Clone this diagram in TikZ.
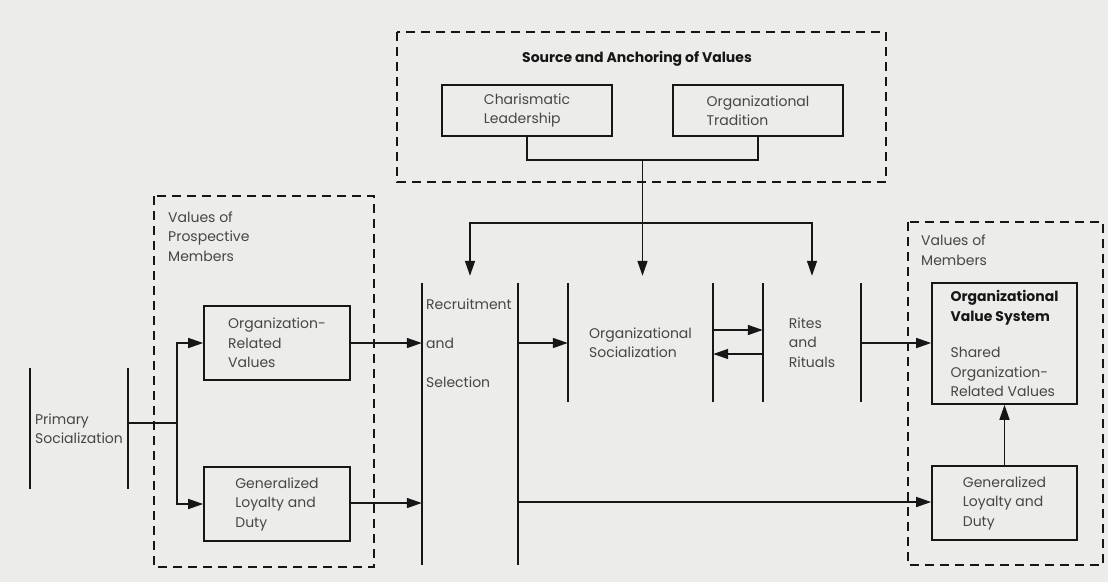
\documentclass[tikz,border=0pt]{standalone}
\usepackage{fontspec}
\setmainfont{Poppins}
\usetikzlibrary{arrows.meta,calc}
\definecolor{paper}{RGB}{236,236,234}
\definecolor{ink}{RGB}{22,22,22}
\definecolor{txtgray}{RGB}{70,70,70}
\newcommand\hb[1]{\textcolor{ink}{\bfseries #1}}

\begin{document}
\begin{tikzpicture}[x=1pt,y=-1pt,
  every node/.style={font=\fontsize{14}{19.5}\selectfont, text=txtgray},
  box/.style={draw=ink, line width=1.7pt, align=left, inner sep=0pt},
  stage/.style={inner sep=0pt, align=left},
  bar/.style={draw=ink, line width=1.7pt},
  group/.style={draw=ink, line width=1.5pt, dash pattern=on 9pt off 6pt},
  link/.style={draw=ink, line width=1.6pt},
  arr/.style={link, -{Triangle[length=15pt,width=10pt]}},
  hdr/.style={font=\bfseries\fontsize{14}{19.5}\selectfont, text=ink}
]
\fill[paper] (0,0) rectangle (1108,582);

% dashed groupings
\draw[group] (397,32) rectangle (886,182);
\draw[group] (154,196) rectangle (374,567);
\draw[group] (908,222) rectangle (1103,565);

% group headings (base anchor sits on the last line)
\node[hdr, anchor=base] (srctitle) at (637,62) {Source and Anchoring of Values};
\node[anchor=base west, align=left, inner sep=0pt] (vpmtitle) at (168,261)
  {Values of\\Prospective\\Members};
\node[anchor=base west, align=left, inner sep=0pt] (vmtitle) at (921,265)
  {Values of\\Members};

% boxes
\node[box, minimum width=170pt, minimum height=51pt] (cl) at (527,110.5)
  {Charismatic\\Leadership};
\node[box, minimum width=170pt, minimum height=51pt] (ot) at (758,110.5)
  {Organizational\\Tradition};
\node[box, minimum width=146pt, minimum height=74pt] (orv) at (277,343)
  {Organization-\\Related\\Values};
\node[box, minimum width=146pt, minimum height=74pt] (gl1) at (277,504)
  {Generalized\\Loyalty and\\Duty};
\node[box, minimum width=145pt, minimum height=121pt] (ovs) at (1004.5,343.5)
  {\hb{Organizational}\\\hb{Value System}\\[17pt]Shared\\Organization-\\Related Values};
\node[box, minimum width=145pt, minimum height=74pt] (gl2) at (1004.5,503)
  {Generalized\\Loyalty and\\Duty};

% stages bounded by vertical bars
\node[stage, minimum width=98pt, minimum height=121pt] (ps) at (79,428.5)
  {Primary\\Socialization};
\node[stage, minimum width=96pt, minimum height=282pt] (rs) at (470,424) {};
\node[stage, font=\fontsize{14}{39}\selectfont] (rstext) at (469,343)
  {Recruitment\\and\\Selection};
\node[stage, minimum width=145pt, minimum height=119pt] (os) at (640.5,342.5)
  {Organizational\\Socialization};
\node[stage, minimum width=98pt, minimum height=119pt] (rr) at (812,342.5)
  {Rites\\and\\Rituals};
\foreach \s in {ps,rs,os,rr}{
  \draw[bar] (\s.north west) -- (\s.south west);
  \draw[bar] (\s.north east) -- (\s.south east);
}

% source of values feeding the three stages
\coordinate (join) at ($(cl.south)!0.5!(ot.south)+(0,23)$);
\draw[link] (cl.south) |- (join) -| (ot.south);
\coordinate (hub) at ($(join)+(0,63)$);
\draw[link] (join) -- (hub);
\draw[arr, shorten >=7pt] (hub) -| (rs.north);
\draw[arr, shorten >=7pt] (hub) -- (hub |- os.north);
\draw[arr, shorten >=7pt] (hub) -| (rr.north);

% primary socialization splits into prospective values
\coordinate (split) at (177,423);
\draw[link] (ps.east |- split) -- (split);
\draw[arr] (split) |- (orv.west);
\draw[arr] (split) |- (gl1.west);

% prospective values enter recruitment
\draw[arr] (orv.east) -- (orv.east -| rs.west);
\draw[arr] ($(gl1.east)+(0,-1)$) -- ($(gl1.east -| rs.west)+(0,-1)$);

% through the organization
\draw[arr] (rs.east |- orv.east) -- (os.west |- orv.east);
\draw[arr] ($(os.east)+(0,-12.5)$) -- ($(rr.west)+(0,-12.5)$);
\draw[arr] ($(rr.west)+(0,11.5)$) -- ($(os.east)+(0,11.5)$);
\draw[arr] (rr.east |- orv.east) -- (ovs.west |- orv.east);
\draw[arr] ($(rs.east |- gl2.west)+(0,-1)$) -- ($(gl2.west)+(0,-1)$);
\draw[arr] (gl2.north) -- (ovs.south);
\end{tikzpicture}
\end{document}
